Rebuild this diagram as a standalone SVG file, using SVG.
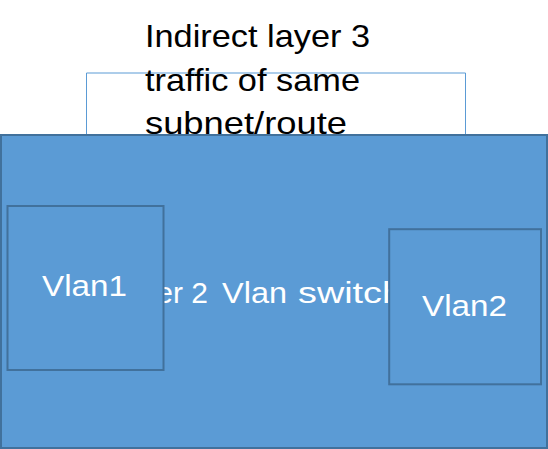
<svg xmlns="http://www.w3.org/2000/svg" width="548" height="449" viewBox="0 0 548 449">
<style>
.box{fill:#5B9BD5;stroke:#41719C;stroke-width:2}
.lbl{font-family:"Liberation Sans",Arial,sans-serif;font-size:30px;fill:#FFFFFF}
.note{font-family:"Liberation Sans",Arial,sans-serif;font-size:32px;fill:#000000}
.conn{fill:none;stroke:#5B9BD5;stroke-width:1}
</style>
<rect width="548" height="449" fill="#FFFFFF"/>
<g id="connectors">
<path class="conn" d="M86.5 206 V73 H465.5 V229"/>
</g>
<g id="note">
<text class="note" x="145" y="47" textLength="225" lengthAdjust="spacingAndGlyphs">Indirect layer 3</text>
<text class="note" x="145" y="91" textLength="215" lengthAdjust="spacingAndGlyphs">traffic of same</text>
<text class="note" x="145" y="134" textLength="202" lengthAdjust="spacingAndGlyphs">subnet/route</text>
</g>
<g id="switch">
<rect class="box" x="1" y="135" width="546" height="313"/>
<text class="lbl" y="303"><tspan x="108" textLength="100" lengthAdjust="spacingAndGlyphs">Layer 2</tspan><tspan x="222" textLength="65" lengthAdjust="spacingAndGlyphs">Vlan</tspan><tspan x="298" textLength="105" lengthAdjust="spacingAndGlyphs">switch</tspan></text>
</g>
<g id="vlan1">
<rect class="box" x="7.5" y="206" width="156" height="164"/>
<text class="lbl" x="42" y="296" textLength="85" lengthAdjust="spacingAndGlyphs">Vlan1</text>
</g>
<g id="vlan2">
<rect class="box" x="389.2" y="229.2" width="151.8" height="155.1"/>
<text class="lbl" x="422" y="316" textLength="85" lengthAdjust="spacingAndGlyphs">Vlan2</text>
</g>
</svg>
